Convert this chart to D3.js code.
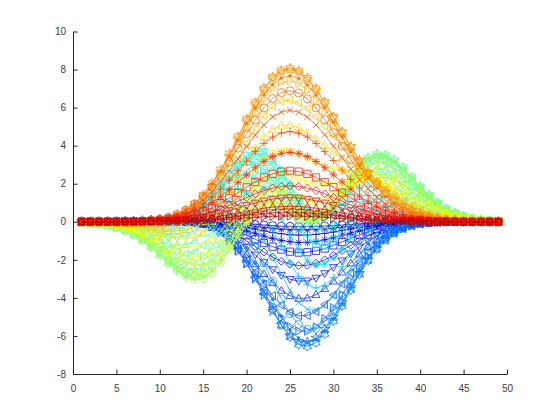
<!DOCTYPE html>
<html>
<head>
<meta charset="utf-8">
<script src="https://cdn.jsdelivr.net/npm/d3@7"></script>
<style>
	body { margin: 0; background: #fff; }
	svg { display: block; }
</style>
</head>
<body>
<svg id="chart" width="560" height="420"></svg>
<script>
// x positions (sample index) and axis ticks
var xs = [1,2,3,4,5,6,7,8,9,10,11,12,13,14,15,16,17,18,19,20,21,22,23,24,25,26,27,28,29,30,31,32,33,34,35,36,37,38,39,40,41,42,43,44,45,46,47,48,49];
var xTicks = [0,5,10,15,20,25,30,35,40,45,50];
var yTicks = [-8,-6,-4,-2,0,2,4,6,8,10];

// one series per line
var z01 = [0,0,0,0,0,0,0,0,0,0,0.01,0.01,0,0,-0.01,-0.02,-0.03,-0.05,-0.08,-0.10,-0.14,-0.17,-0.20,-0.23,-0.24,-0.25,-0.25,-0.24,-0.22,-0.20,-0.17,-0.14,-0.11,-0.08,-0.06,-0.04,-0.03,-0.02,-0.01,-0.01,0,0,0,0,0,0,0,0,0];
var z02 = [0,0,0,0,0,0,0,0,0.01,0.01,0.01,0.01,0,0,-0.01,-0.03,-0.06,-0.09,-0.13,-0.18,-0.24,-0.29,-0.34,-0.39,-0.42,-0.43,-0.43,-0.41,-0.38,-0.33,-0.28,-0.23,-0.19,-0.14,-0.10,-0.07,-0.05,-0.03,-0.02,-0.01,-0.01,0,0,0,0,0,0,0,0];
var z03 = [0,0,0,0,0,0,0,0.01,0.01,0.01,0.01,0.01,0,-0.01,-0.02,-0.05,-0.10,-0.15,-0.22,-0.30,-0.39,-0.48,-0.56,-0.63,-0.68,-0.70,-0.69,-0.66,-0.61,-0.54,-0.46,-0.38,-0.30,-0.23,-0.17,-0.12,-0.08,-0.05,-0.03,-0.02,-0.01,-0.01,0,0,0,0,0,0,0];
var z04 = [0,0,0,0,0,0,0.01,0.01,0.01,0.01,0.01,0.01,0,-0.01,-0.04,-0.09,-0.15,-0.24,-0.35,-0.48,-0.61,-0.75,-0.88,-0.98,-1.05,-1.09,-1.08,-1.03,-0.95,-0.84,-0.71,-0.59,-0.46,-0.35,-0.26,-0.18,-0.12,-0.08,-0.05,-0.03,-0.02,-0.01,-0.01,0,0,0,0,0,0];
var z05 = [0,0,0,0,0,0.01,0.01,0.01,0.01,0.02,0.02,0.02,0,-0.02,-0.07,-0.14,-0.23,-0.36,-0.53,-0.71,-0.92,-1.12,-1.31,-1.46,-1.57,-1.62,-1.60,-1.53,-1.41,-1.24,-1.06,-0.87,-0.69,-0.52,-0.38,-0.27,-0.18,-0.12,-0.08,-0.05,-0.03,-0.01,-0.01,0,0,0,0,0,0];
var z06 = [0,0,0,0,0,0.01,0.01,0.02,0.02,0.02,0.03,0.02,0,-0.03,-0.10,-0.19,-0.33,-0.52,-0.74,-1.01,-1.30,-1.59,-1.86,-2.08,-2.23,-2.30,-2.28,-2.18,-2.00,-1.77,-1.51,-1.24,-0.98,-0.74,-0.54,-0.38,-0.26,-0.17,-0.11,-0.06,-0.04,-0.02,-0.01,-0.01,0,0,0,0,0];
var z07 = [0,0,0,0,0.01,0.01,0.01,0.02,0.03,0.03,0.04,0.03,0.01,-0.04,-0.12,-0.25,-0.44,-0.69,-0.99,-1.35,-1.74,-2.14,-2.51,-2.81,-3.02,-3.12,-3.10,-2.96,-2.72,-2.40,-2.05,-1.68,-1.32,-1.01,-0.73,-0.52,-0.35,-0.22,-0.14,-0.08,-0.05,-0.02,-0.01,-0.01,0,0,0,0,0];
var z08 = [0,0,0,0,0.01,0.01,0.02,0.03,0.04,0.05,0.05,0.04,0.02,-0.04,-0.14,-0.30,-0.53,-0.85,-1.24,-1.71,-2.21,-2.73,-3.21,-3.61,-3.89,-4.03,-4.01,-3.83,-3.52,-3.12,-2.65,-2.17,-1.71,-1.30,-0.94,-0.66,-0.44,-0.28,-0.17,-0.10,-0.06,-0.03,-0.01,-0.01,0,0,0,0,0];
var z09 = [0,0,0,0.01,0.01,0.01,0.02,0.03,0.05,0.06,0.07,0.07,0.05,-0.01,-0.13,-0.32,-0.59,-0.97,-1.45,-2.01,-2.64,-3.28,-3.88,-4.39,-4.76,-4.94,-4.93,-4.72,-4.35,-3.85,-3.27,-2.68,-2.10,-1.59,-1.15,-0.80,-0.53,-0.34,-0.20,-0.12,-0.06,-0.03,-0.01,-0.01,0,0,0,0,0];
var z10 = [0,0,0,0.01,0.01,0.02,0.03,0.04,0.06,0.08,0.10,0.10,0.09,0.04,-0.08,-0.28,-0.58,-1.00,-1.55,-2.20,-2.93,-3.69,-4.42,-5.04,-5.50,-5.74,-5.75,-5.52,-5.09,-4.51,-3.83,-3.13,-2.45,-1.84,-1.32,-0.91,-0.59,-0.37,-0.22,-0.12,-0.06,-0.03,-0.01,0,0,0,0,0,0];
var z11 = [0,0,0,0.01,0.01,0.02,0.03,0.05,0.07,0.10,0.13,0.15,0.15,0.12,0.02,-0.16,-0.46,-0.90,-1.48,-2.19,-3.00,-3.86,-4.70,-5.42,-5.97,-6.28,-6.33,-6.10,-5.64,-5.00,-4.24,-3.45,-2.69,-2.00,-1.42,-0.96,-0.61,-0.37,-0.20,-0.10,-0.04,-0.01,0,0.01,0.01,0.01,0,0,0];
var z12 = [0,0,0,0,0.01,0.02,0.03,0.05,0.08,0.12,0.16,0.20,0.24,0.24,0.18,0.04,-0.22,-0.63,-1.20,-1.92,-2.77,-3.69,-4.60,-5.42,-6.06,-6.45,-6.55,-6.35,-5.89,-5.22,-4.42,-3.58,-2.76,-2.03,-1.41,-0.93,-0.57,-0.32,-0.16,-0.06,-0.01,0.01,0.02,0.02,0.01,0.01,0.01,0,0];
var z13 = [0,0,0,0,0.01,0.01,0.03,0.05,0.08,0.13,0.19,0.26,0.33,0.38,0.39,0.33,0.15,-0.18,-0.68,-1.36,-2.19,-3.12,-4.08,-4.96,-5.68,-6.15,-6.33,-6.19,-5.76,-5.11,-4.32,-3.46,-2.63,-1.89,-1.27,-0.79,-0.44,-0.21,-0.07,0.01,0.04,0.05,0.05,0.04,0.03,0.02,0.01,0.01,0];
var z14 = [0,0,0,0,0,0,0.01,0.03,0.06,0.12,0.19,0.29,0.41,0.53,0.62,0.67,0.61,0.41,0.04,-0.53,-1.28,-2.17,-3.13,-4.05,-4.83,-5.39,-5.65,-5.60,-5.25,-4.66,-3.90,-3.09,-2.29,-1.57,-0.98,-0.54,-0.22,-0.03,0.08,0.12,0.12,0.11,0.08,0.06,0.04,0.03,0.02,0.01,0.01];
var z15 = [0,-0.01,-0.01,-0.01,-0.01,-0.02,-0.01,0,0.03,0.08,0.17,0.29,0.45,0.64,0.84,1.01,1.11,1.08,0.88,0.48,-0.14,-0.94,-1.84,-2.77,-3.60,-4.24,-4.60,-4.65,-4.40,-3.90,-3.22,-2.47,-1.74,-1.08,-0.56,-0.17,0.08,0.22,0.27,0.26,0.23,0.18,0.13,0.09,0.06,0.04,0.02,0.01,0.01];
var z16 = [-0.01,-0.01,-0.02,-0.02,-0.03,-0.04,-0.05,-0.05,-0.03,0.01,0.09,0.23,0.42,0.68,0.97,1.28,1.55,1.72,1.73,1.53,1.09,0.43,-0.40,-1.30,-2.16,-2.87,-3.32,-3.48,-3.34,-2.94,-2.36,-1.70,-1.04,-0.47,-0.02,0.29,0.46,0.52,0.50,0.44,0.35,0.27,0.19,0.13,0.09,0.05,0.03,0.02,0.01];
var z17 = [-0.01,-0.01,-0.02,-0.04,-0.06,-0.08,-0.10,-0.12,-0.13,-0.11,-0.04,0.09,0.30,0.60,0.98,1.42,1.86,2.23,2.45,2.47,2.22,1.72,1.00,0.14,-0.72,-1.48,-2.02,-2.27,-2.22,-1.92,-1.43,-0.85,-0.27,0.22,0.58,0.80,0.88,0.86,0.77,0.64,0.50,0.37,0.26,0.18,0.11,0.07,0.04,0.02,0.01];
var z18 = [-0.01,-0.02,-0.04,-0.06,-0.09,-0.13,-0.17,-0.22,-0.26,-0.28,-0.24,-0.14,0.07,0.39,0.83,1.36,1.94,2.50,2.93,3.15,3.11,2.76,2.16,1.37,0.51,-0.27,-0.86,-1.18,-1.21,-0.97,-0.54,-0.02,0.49,0.91,1.20,1.33,1.33,1.23,1.06,0.86,0.66,0.48,0.34,0.22,0.14,0.09,0.05,0.03,0.02];
var z19 = [-0.02,-0.03,-0.05,-0.08,-0.12,-0.18,-0.25,-0.34,-0.42,-0.49,-0.51,-0.45,-0.28,0.03,0.49,1.09,1.78,2.48,3.09,3.50,3.63,3.44,2.94,2.22,1.40,0.61,0.00,-0.36,-0.41,-0.20,0.20,0.70,1.18,1.56,1.79,1.85,1.78,1.59,1.35,1.08,0.82,0.60,0.41,0.28,0.18,0.11,0.06,0.04,0.02];
var z20 = [-0.02,-0.04,-0.06,-0.10,-0.16,-0.24,-0.35,-0.47,-0.61,-0.73,-0.82,-0.83,-0.72,-0.45,0.00,0.63,1.38,2.18,2.92,3.48,3.76,3.70,3.31,2.66,1.88,1.11,0.51,0.16,0.11,0.34,0.76,1.27,1.75,2.11,2.31,2.33,2.19,1.94,1.62,1.29,0.98,0.71,0.49,0.33,0.21,0.13,0.08,0.04,0.02];
var z21 = [-0.03,-0.05,-0.08,-0.13,-0.20,-0.30,-0.44,-0.61,-0.80,-0.99,-1.16,-1.25,-1.21,-1.01,-0.60,0.02,0.80,1.66,2.49,3.16,3.55,3.60,3.30,2.73,2.00,1.27,0.70,0.39,0.39,0.67,1.14,1.69,2.20,2.57,2.76,2.75,2.56,2.25,1.87,1.49,1.12,0.81,0.56,0.37,0.24,0.15,0.09,0.05,0.03];
var z22 = [-0.03,-0.05,-0.09,-0.15,-0.24,-0.36,-0.53,-0.74,-0.98,-1.24,-1.49,-1.66,-1.71,-1.58,-1.23,-0.66,0.12,1.00,1.89,2.63,3.11,3.25,3.03,2.53,1.86,1.19,0.67,0.42,0.48,0.83,1.37,1.98,2.53,2.93,3.11,3.08,2.86,2.51,2.09,1.65,1.25,0.90,0.62,0.41,0.26,0.16,0.09,0.05,0.03];
var z23 = [-0.03,-0.06,-0.10,-0.17,-0.27,-0.41,-0.60,-0.85,-1.14,-1.46,-1.78,-2.03,-2.16,-2.11,-1.84,-1.31,-0.57,0.32,1.23,2.02,2.56,2.77,2.63,2.19,1.59,0.98,0.53,0.34,0.48,0.89,1.50,2.16,2.76,3.18,3.37,3.33,3.09,2.70,2.25,1.77,1.34,0.97,0.67,0.44,0.28,0.17,0.10,0.06,0.03];
var z24 = [-0.04,-0.06,-0.11,-0.18,-0.29,-0.44,-0.66,-0.93,-1.26,-1.63,-2.00,-2.32,-2.53,-2.55,-2.34,-1.88,-1.17,-0.31,0.60,1.41,2.00,2.26,2.18,1.81,1.27,0.74,0.35,0.23,0.43,0.90,1.56,2.27,2.89,3.33,3.53,3.48,3.23,2.82,2.34,1.85,1.40,1.01,0.70,0.46,0.29,0.18,0.11,0.06,0.03];
var z25 = [-0.04,-0.07,-0.11,-0.19,-0.30,-0.46,-0.69,-0.98,-1.33,-1.73,-2.14,-2.51,-2.77,-2.86,-2.71,-2.30,-1.65,-0.83,0.06,0.88,1.48,1.78,1.75,1.45,0.98,0.51,0.19,0.13,0.37,0.89,1.57,2.30,2.94,3.38,3.58,3.53,3.27,2.86,2.37,1.87,1.41,1.02,0.70,0.47,0.30,0.18,0.11,0.06,0.03];
var z26 = [-0.04,-0.07,-0.11,-0.19,-0.30,-0.47,-0.69,-0.99,-1.35,-1.76,-2.19,-2.59,-2.89,-3.02,-2.92,-2.57,-1.98,-1.21,-0.36,0.43,1.04,1.36,1.37,1.13,0.73,0.32,0.06,0.05,0.32,0.85,1.54,2.26,2.89,3.33,3.52,3.47,3.21,2.81,2.33,1.84,1.39,1.00,0.69,0.46,0.29,0.18,0.10,0.06,0.03];
var z27 = [-0.04,-0.06,-0.11,-0.18,-0.29,-0.45,-0.67,-0.96,-1.32,-1.73,-2.16,-2.56,-2.87,-3.03,-2.98,-2.68,-2.15,-1.44,-0.65,0.10,0.68,1.01,1.06,0.86,0.52,0.18,-0.03,-0.01,0.28,0.80,1.47,2.16,2.76,3.18,3.36,3.31,3.06,2.68,2.22,1.75,1.32,0.95,0.66,0.44,0.28,0.17,0.10,0.06,0.03];
var z28 = [-0.03,-0.06,-0.10,-0.17,-0.27,-0.42,-0.63,-0.90,-1.24,-1.63,-2.04,-2.43,-2.74,-2.91,-2.88,-2.63,-2.16,-1.51,-0.79,-0.10,0.45,0.77,0.84,0.69,0.41,0.13,-0.04,0.00,0.28,0.77,1.39,2.02,2.58,2.95,3.12,3.07,2.83,2.47,2.05,1.62,1.22,0.88,0.61,0.40,0.26,0.16,0.09,0.05,0.03];
var z29 = [-0.03,-0.05,-0.09,-0.15,-0.25,-0.38,-0.57,-0.82,-1.12,-1.48,-1.85,-2.21,-2.49,-2.65,-2.64,-2.42,-2.00,-1.42,-0.76,-0.12,0.39,0.71,0.80,0.69,0.46,0.23,0.09,0.13,0.38,0.80,1.34,1.90,2.38,2.70,2.83,2.78,2.56,2.23,1.84,1.45,1.09,0.79,0.54,0.36,0.23,0.14,0.08,0.05,0.03];
var z30 = [-0.03,-0.05,-0.08,-0.13,-0.22,-0.33,-0.50,-0.71,-0.98,-1.28,-1.61,-1.92,-2.16,-2.29,-2.26,-2.06,-1.66,-1.13,-0.52,0.08,0.57,0.89,1.01,0.95,0.78,0.58,0.45,0.47,0.65,0.99,1.41,1.85,2.22,2.47,2.55,2.48,2.27,1.97,1.62,1.27,0.96,0.69,0.47,0.31,0.20,0.12,0.07,0.04,0.02];
var z31 = [-0.02,-0.04,-0.07,-0.11,-0.18,-0.28,-0.42,-0.60,-0.82,-1.07,-1.33,-1.57,-1.76,-1.84,-1.78,-1.55,-1.16,-0.64,-0.05,0.54,1.04,1.39,1.55,1.55,1.42,1.25,1.12,1.08,1.17,1.37,1.65,1.94,2.17,2.31,2.32,2.21,1.99,1.71,1.40,1.10,0.82,0.59,0.40,0.27,0.17,0.10,0.06,0.03,0.02];
var z32 = [-0.02,-0.03,-0.05,-0.09,-0.15,-0.22,-0.33,-0.47,-0.65,-0.84,-1.03,-1.21,-1.32,-1.33,-1.21,-0.94,-0.52,0.03,0.65,1.26,1.80,2.20,2.43,2.49,2.42,2.27,2.11,1.99,1.95,1.99,2.08,2.18,2.24,2.24,2.16,1.99,1.76,1.49,1.20,0.93,0.69,0.49,0.34,0.22,0.14,0.09,0.05,0.03,0.02];
var z33 = [-0.01,-0.02,-0.04,-0.07,-0.11,-0.17,-0.25,-0.36,-0.48,-0.61,-0.74,-0.83,-0.86,-0.80,-0.60,-0.26,0.23,0.83,1.51,2.18,2.79,3.27,3.59,3.72,3.69,3.55,3.34,3.13,2.93,2.78,2.66,2.55,2.43,2.28,2.08,1.85,1.58,1.30,1.04,0.79,0.58,0.41,0.28,0.18,0.11,0.07,0.04,0.02,0.01];
var z34 = [-0.01,-0.02,-0.03,-0.05,-0.08,-0.12,-0.18,-0.25,-0.33,-0.41,-0.47,-0.48,-0.43,-0.28,0.00,0.43,0.99,1.68,2.43,3.19,3.89,4.46,4.86,5.07,5.08,4.94,4.68,4.36,4.01,3.66,3.33,3.01,2.70,2.39,2.07,1.76,1.45,1.16,0.90,0.67,0.49,0.34,0.23,0.15,0.09,0.06,0.03,0.02,0.01];
var z35 = [-0.01,-0.01,-0.02,-0.04,-0.06,-0.08,-0.12,-0.16,-0.20,-0.23,-0.23,-0.17,-0.05,0.19,0.55,1.05,1.69,2.45,3.29,4.13,4.92,5.58,6.07,6.34,6.39,6.24,5.94,5.51,5.02,4.49,3.97,3.46,2.97,2.51,2.09,1.70,1.35,1.05,0.79,0.58,0.41,0.28,0.19,0.12,0.07,0.04,0.03,0.01,0.01];
var z36 = [0,-0.01,-0.01,-0.02,-0.03,-0.05,-0.07,-0.08,-0.09,-0.08,-0.03,0.07,0.26,0.56,0.98,1.55,2.25,3.07,3.97,4.87,5.73,6.46,7.01,7.33,7.41,7.27,6.92,6.41,5.81,5.14,4.46,3.80,3.17,2.60,2.09,1.65,1.27,0.96,0.70,0.50,0.35,0.23,0.15,0.10,0.06,0.03,0.02,0.01,0.01];
var z37 = [0,-0.01,-0.01,-0.01,-0.02,-0.03,-0.03,-0.03,-0.01,0.03,0.11,0.25,0.48,0.81,1.27,1.87,2.61,3.45,4.37,5.31,6.20,6.96,7.54,7.89,8.00,7.85,7.48,6.93,6.25,5.50,4.72,3.96,3.25,2.61,2.05,1.58,1.19,0.87,0.62,0.43,0.29,0.19,0.12,0.08,0.05,0.03,0.02,0.01,0];
var z38 = [0,0,0,-0.01,-0.01,-0.01,0,0.01,0.04,0.10,0.20,0.36,0.60,0.95,1.42,2.02,2.74,3.58,4.48,5.40,6.27,7.02,7.61,7.96,8.08,7.94,7.56,7.00,6.31,5.52,4.71,3.92,3.18,2.52,1.95,1.47,1.08,0.78,0.55,0.37,0.25,0.16,0.10,0.06,0.04,0.02,0.01,0.01,0];
var z39 = [0,0,0,0,0,0,0.01,0.03,0.07,0.13,0.24,0.41,0.65,0.98,1.43,1.99,2.67,3.45,4.29,5.15,5.96,6.67,7.22,7.56,7.67,7.54,7.19,6.66,5.99,5.23,4.45,3.68,2.96,2.32,1.78,1.32,0.96,0.68,0.47,0.31,0.21,0.13,0.08,0.05,0.03,0.02,0.01,0,0];
var z40 = [0,0,0,0,0,0.01,0.02,0.04,0.08,0.15,0.25,0.40,0.62,0.93,1.33,1.83,2.44,3.13,3.87,4.63,5.35,5.99,6.48,6.79,6.89,6.77,6.46,5.98,5.37,4.69,3.97,3.27,2.62,2.04,1.55,1.14,0.82,0.58,0.39,0.26,0.17,0.11,0.06,0.04,0.02,0.01,0.01,0,0];
var z41 = [0,0,0,0,0.01,0.01,0.02,0.04,0.08,0.14,0.23,0.36,0.55,0.82,1.16,1.59,2.10,2.68,3.31,3.95,4.56,5.09,5.51,5.77,5.86,5.76,5.50,5.09,4.57,3.98,3.37,2.77,2.21,1.72,1.29,0.95,0.68,0.47,0.32,0.21,0.13,0.08,0.05,0.03,0.02,0.01,0,0,0];
var z42 = [0,0,0,0,0.01,0.01,0.02,0.04,0.07,0.12,0.19,0.30,0.46,0.67,0.95,1.30,1.71,2.18,2.68,3.19,3.69,4.12,4.45,4.67,4.74,4.66,4.45,4.11,3.69,3.22,2.72,2.23,1.78,1.37,1.03,0.75,0.53,0.37,0.25,0.16,0.10,0.06,0.04,0.02,0.01,0.01,0,0,0];
var z43 = [0,0,0,0,0,0.01,0.02,0.03,0.06,0.10,0.15,0.24,0.36,0.53,0.74,1.01,1.32,1.68,2.07,2.46,2.84,3.17,3.43,3.59,3.65,3.59,3.43,3.17,2.84,2.47,2.09,1.71,1.36,1.05,0.79,0.57,0.41,0.28,0.19,0.12,0.08,0.05,0.03,0.02,0.01,0,0,0,0];
var z44 = [0,0,0,0,0,0.01,0.01,0.03,0.04,0.07,0.12,0.18,0.27,0.39,0.55,0.74,0.98,1.24,1.52,1.81,2.09,2.33,2.52,2.64,2.68,2.64,2.52,2.33,2.09,1.82,1.53,1.26,1.00,0.77,0.58,0.42,0.29,0.20,0.13,0.09,0.05,0.03,0.02,0.01,0.01,0,0,0,0];
var z45 = [0,0,0,0,0,0.01,0.01,0.02,0.03,0.05,0.08,0.13,0.19,0.28,0.39,0.52,0.69,0.87,1.07,1.27,1.47,1.64,1.77,1.86,1.89,1.86,1.77,1.64,1.47,1.28,1.08,0.88,0.70,0.54,0.40,0.29,0.20,0.14,0.09,0.06,0.04,0.02,0.01,0.01,0,0,0,0,0];
var z46 = [0,0,0,0,0,0,0.01,0.01,0.02,0.04,0.06,0.09,0.13,0.19,0.26,0.35,0.46,0.59,0.72,0.86,0.99,1.10,1.19,1.25,1.27,1.25,1.19,1.10,0.99,0.86,0.72,0.59,0.47,0.36,0.27,0.19,0.14,0.09,0.06,0.04,0.02,0.01,0.01,0,0,0,0,0,0];
var z47 = [0,0,0,0,0,0,0,0.01,0.01,0.02,0.04,0.06,0.08,0.12,0.17,0.23,0.30,0.38,0.46,0.55,0.64,0.71,0.77,0.80,0.82,0.80,0.77,0.71,0.64,0.55,0.47,0.38,0.30,0.23,0.17,0.13,0.09,0.06,0.04,0.03,0.02,0.01,0.01,0,0,0,0,0,0];
var z48 = [0,0,0,0,0,0,0,0.01,0.01,0.01,0.02,0.04,0.05,0.08,0.10,0.14,0.19,0.23,0.29,0.34,0.39,0.44,0.47,0.50,0.51,0.50,0.47,0.44,0.39,0.34,0.29,0.24,0.19,0.14,0.11,0.08,0.05,0.04,0.02,0.02,0.01,0.01,0,0,0,0,0,0,0];
var z49 = [0,0,0,0,0,0,0,0,0.01,0.01,0.01,0.02,0.03,0.04,0.06,0.08,0.11,0.14,0.17,0.20,0.23,0.26,0.28,0.30,0.30,0.30,0.28,0.26,0.23,0.20,0.17,0.14,0.11,0.09,0.06,0.05,0.03,0.02,0.01,0.01,0.01,0,0,0,0,0,0,0,0];

var rows = [z01,z02,z03,z04,z05,z06,z07,z08,z09,z10,z11,z12,z13,z14,z15,z16,z17,z18,z19,z20,
	z21,z22,z23,z24,z25,z26,z27,z28,z29,z30,z31,z32,z33,z34,z35,z36,z37,z38,z39,z40,
	z41,z42,z43,z44,z45,z46,z47,z48,z49];

// marker cycle used by the lines
var markers = ['o','x','+','*','s','d','v','^','<','>','p','h','.'];

var svg = d3.select('#chart'),
	axisColor = '#262626',
	labelColor = '#404040',
	fontFamily = '"Liberation Sans", Arial, Helvetica, sans-serif';

var x = d3.scaleLinear().domain([0, 50]).range([73, 507]),
	y = d3.scaleLinear().domain([-8, 10]).range([374, 31.5]);

// jet colormap, built the same way as matlab does it
function jet(m) {
	var n = Math.ceil(m / 4), u = [], i;
	for (i = 1; i <= n; i++) u.push(i / n);
	for (i = 0; i < n - 1; i++) u.push(1);
	for (i = n; i >= 1; i--) u.push(i / n);
	var g0 = Math.ceil(n / 2) - (m % 4 === 1 ? 1 : 0);
	var J = [];
	for (i = 0; i < m; i++) J.push([0, 0, 0]);
	u.forEach(function (v, k) {
		var g = g0 + k + 1, r = g + n, b = g - n;
		if (r >= 1 && r <= m) J[r - 1][0] = v;
		if (g >= 1 && g <= m) J[g - 1][1] = v;
		if (b >= 1 && b <= m) J[b - 1][2] = v;
	});
	return J.map(function (c) {
		return d3.rgb(c[0] * 255, c[1] * 255, c[2] * 255).formatHex();
	});
}

function star(n, R, r) {
	var pts = [];
	for (var i = 0; i < 2 * n; i++) {
		var a = -Math.PI / 2 + i * Math.PI / n, rr = (i % 2) ? r : R;
		pts.push((rr * Math.cos(a)).toFixed(2) + ',' + (rr * Math.sin(a)).toFixed(2));
	}
	return 'M' + pts.join('L') + 'Z';
}

function markerPath(m, s) {
	var h = s / 2, k;
	switch (m) {
		case 'o': return 'M' + h + ',0A' + h + ',' + h + ' 0 1,1 ' + (-h) + ',0A' + h + ',' + h + ' 0 1,1 ' + h + ',0Z';
		case '+': return 'M' + (-h) + ',0H' + h + 'M0,' + (-h) + 'V' + h;
		case 'x':
			k = h * 0.75;
			return 'M' + (-k) + ',' + (-k) + 'L' + k + ',' + k + 'M' + (-k) + ',' + k + 'L' + k + ',' + (-k);
		case '*':
			k = h * 0.7;
			return 'M' + (-h) + ',0H' + h + 'M0,' + (-h) + 'V' + h +
				'M' + (-k) + ',' + (-k) + 'L' + k + ',' + k + 'M' + (-k) + ',' + k + 'L' + k + ',' + (-k);
		case 's':
			k = h * 0.9;
			return 'M' + (-k) + ',' + (-k) + 'H' + k + 'V' + k + 'H' + (-k) + 'Z';
		case 'd': return 'M0,' + (-h) + 'L' + h + ',0L0,' + h + 'L' + (-h) + ',0Z';
		case '^': return 'M0,' + (-h) + 'L' + h + ',' + (h * 0.7) + 'L' + (-h) + ',' + (h * 0.7) + 'Z';
		case 'v': return 'M0,' + h + 'L' + h + ',' + (-h * 0.7) + 'L' + (-h) + ',' + (-h * 0.7) + 'Z';
		case '>': return 'M' + h + ',0L' + (-h * 0.7) + ',' + (-h) + 'L' + (-h * 0.7) + ',' + h + 'Z';
		case '<': return 'M' + (-h) + ',0L' + (h * 0.7) + ',' + (-h) + 'L' + (h * 0.7) + ',' + h + 'Z';
		case 'p': return star(5, h * 1.3, h * 1.3 * 0.382);
		case 'h': return star(6, h * 1.2, h * 1.2 * 0.577);
		case '.':
			k = s / 6;
			return 'M' + k + ',0A' + k + ',' + k + ' 0 1,1 ' + (-k) + ',0A' + k + ',' + k + ' 0 1,1 ' + k + ',0Z';
	}
	return '';
}

// axes (drawn below the data)
var xAxis = d3.axisBottom(x)
	.tickValues(xTicks)
	.tickSizeInner(-4.5)
	.tickSizeOuter(0)
	.tickPadding(11)
	.tickFormat(function (d) { return String(d); });

var yAxis = d3.axisLeft(y)
	.tickValues(yTicks)
	.tickSizeInner(-4.5)
	.tickSizeOuter(0)
	.tickPadding(7)
	.tickFormat(function (d) { return String(d); });

var gx = svg.append('g')
	.attr('transform', 'translate(0,374)')
	.style('color', axisColor)
	.attr('font-size', 12.5)
	.attr('font-family', fontFamily)
	.call(xAxis);

var gy = svg.append('g')
	.attr('transform', 'translate(73,0)')
	.style('color', axisColor)
	.attr('font-size', 12.5)
	.attr('font-family', fontFamily)
	.call(yAxis);

gx.selectAll('text').attr('fill', labelColor);
gy.selectAll('text').attr('fill', labelColor);

// lines with markers
var colors = jet(rows.length);
var line = d3.line()
	.x(function (d, i) { return x(xs[i]); })
	.y(function (d) { return y(d); });

var plot = svg.append('g').attr('class', 'lines');

rows.forEach(function (row, k) {
	var c = colors[k],
		m = markers[k % markers.length],
		shape = markerPath(m, 8);

	var g = plot.append('g');

	g.append('path')
		.attr('d', line(row))
		.attr('fill', 'none')
		.attr('stroke', c)
		.attr('stroke-width', 0.7);

	g.selectAll('path.mk')
		.data(row)
		.enter().append('path')
		.attr('class', 'mk')
		.attr('transform', function (d, i) { return 'translate(' + x(xs[i]) + ',' + y(d) + ')'; })
		.attr('d', shape)
		.attr('fill', m === '.' ? c : 'none')
		.attr('stroke', c)
		.attr('stroke-width', 0.75);
});
</script>
</body>
</html>
